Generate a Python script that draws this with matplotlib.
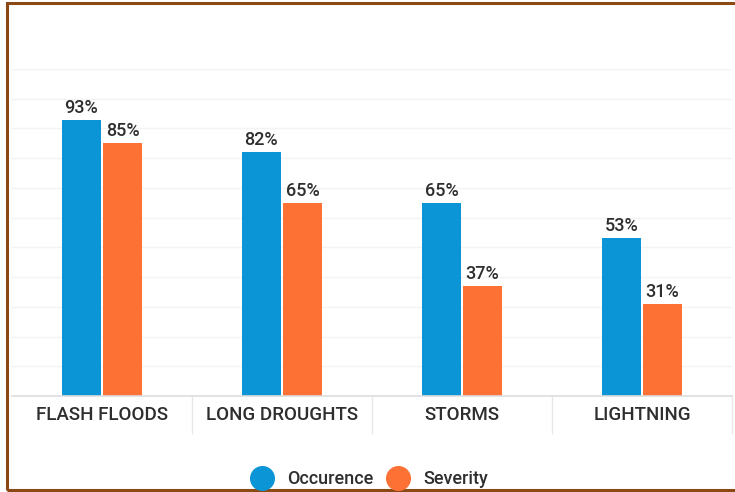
import matplotlib.pyplot as plt
import numpy as np
from matplotlib.patches import Rectangle
from matplotlib.lines import Line2D

CATEGORIES = ["FLASH FLOODS", "LONG DROUGHTS", "STORMS", "LIGHTNING"]
OCCURENCE = [93, 82, 65, 53]
SEVERITY = [85, 65, 37, 31]
SERIES_NAMES = ["Occurence", "Severity"]

BLUE = "#0C95D6"
ORANGE = "#FE7135"
TEXT = "#2e2e2e"

plt.rcParams["font.family"] = ["Roboto", "DejaVu Sans"]

W, H = 735, 492
fig = plt.figure(figsize=(W / 100, H / 100), dpi=100)
ax = fig.add_axes([12 / W, 96 / H, 720 / W, 327 / H])

x = np.arange(len(CATEGORIES))
bw = 0.217
gap = 0.006
b1 = ax.bar(x - bw / 2 - gap, OCCURENCE, bw, color=BLUE, zorder=2)
b2 = ax.bar(x + bw / 2 + gap, SEVERITY, bw, color=ORANGE, zorder=2)

for bars in (b1, b2):
    for rect in bars:
        h = rect.get_height()
        ax.text(rect.get_x() + rect.get_width() / 2, h + 1.0, f"{h:.0f}%",
                ha="center", va="bottom", fontsize=13, color=TEXT,
                fontweight="medium")

ax.set_xlim(-0.5, len(CATEGORIES) - 0.5)
ax.set_ylim(0, 110)
ax.set_yticks(np.arange(0, 111, 10))
ax.yaxis.grid(True, color="#f3f3f3", linewidth=1, zorder=0)
ax.tick_params(axis="y", left=False, labelleft=False)
ax.set_xticks(x)
ax.set_xticklabels(CATEGORIES, fontsize=13.5, color=TEXT, fontweight="medium")
ax.tick_params(axis="x", length=0, pad=7)
for s in ("top", "right", "left"):
    ax.spines[s].set_visible(False)
ax.spines["bottom"].set_color("#dddddd")
ax.spines["bottom"].set_linewidth(1.2)

# category separators below the axis
for b in np.arange(0.5, len(CATEGORIES), 1.0):
    ax.plot([b, b], [0, -12.5], color="#e8e8e8", linewidth=1,
            clip_on=False, zorder=1)

handles = [Line2D([], [], marker="o", linestyle="", markersize=17,
                  markerfacecolor=c, markeredgecolor=c)
           for c in (BLUE, ORANGE)]
fig.legend(handles, SERIES_NAMES, loc="center", bbox_to_anchor=(366 / W, 1 - 479 / H),
           ncol=2, frameon=False, handletextpad=0.4,
           columnspacing=0.35, labelcolor=TEXT,
           prop={"size": 13, "weight": "medium"})

# brown frame
fig.patches.append(Rectangle((7 / W, 2 / H), 740 / W, 487 / H, transform=fig.transFigure,
                             fill=False, edgecolor="#8B4A14", linewidth=2.2))

fig.savefig("out.png", dpi=100, facecolor="white")
